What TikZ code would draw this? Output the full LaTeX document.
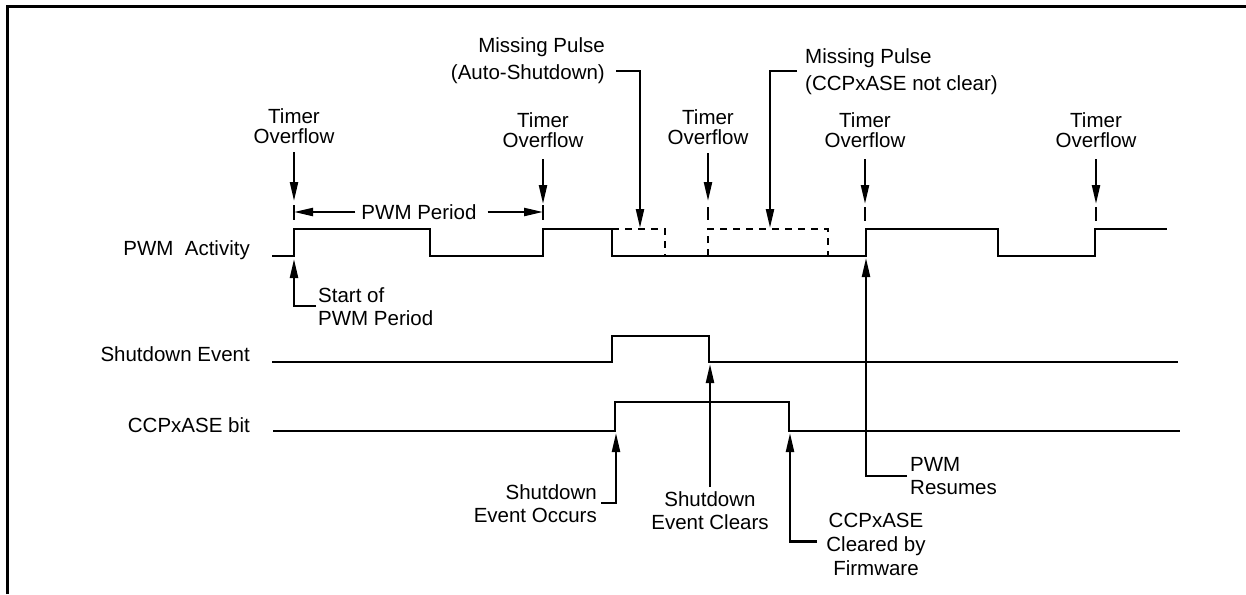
\documentclass[tikz,border=0pt]{standalone}
\usepackage{fontspec}
\setmainfont{Liberation Sans}
\usetikzlibrary{arrows.meta}

\begin{document}
\begin{tikzpicture}[x=1pt,y=-1pt]
      \newcommand{\pwmhi}[0]{229}
      \newcommand{\pwmlo}[0]{256}
      \newcommand{\sdhi}[0]{336}
      \newcommand{\sdlo}[0]{362}
      \newcommand{\asehi}[0]{402}
      \newcommand{\aselo}[0]{431}

      \useasboundingbox (0,0) rectangle (1246,594);

      \tikzstyle{txt} = [
        inner sep=0pt,
        align=center,
        font=\fontsize{20.5}{23}\selectfont,
      ]
      \tikzstyle{sig} = [
        txt,
        anchor=base east,
      ]
      \tikzstyle{wave} = [
        line width=2.6pt,
        line join=miter,
      ]
      \tikzstyle{ghost} = [
        wave,
        dash pattern=on 7pt off 6pt,
      ]
      \tikzstyle{ptr} = [
        line width=2.2pt,
        -{Triangle[length=19pt,width=8pt]},
      ]
      \tikzstyle{tickline} = [
        line width=2.2pt,
      ]

      % frame
      \draw[line width=3pt] (7,594) -- (7,7) -- (1246,7);

      % pwm activity
      {
        \node[sig] (lpwm) at (250,255) {PWM\ \ Activity};
        \draw[wave] (272,\pwmlo) -| (294,\pwmhi) -| (430,\pwmlo) -| (543,\pwmhi)
          -| (612,\pwmlo) -| (866,\pwmhi) -| (998,\pwmlo) -| (1095,\pwmhi) -- (1167,\pwmhi);
        \draw[ghost] (612,\pwmhi) -| (665,\pwmlo);
        \draw[ghost] (708,\pwmlo) |- (828,\pwmhi) -- (828,\pwmlo);
      }

      % shutdown event
      {
        \node[sig] (lsd) at (250,361) {Shutdown Event};
        \draw[wave] (272,\sdlo) -| (612,\sdhi) -| (709,\sdlo) -- (1178,\sdlo);
      }

      % ccpxase bit
      {
        \node[sig] (lase) at (250,432) {CCPxASE bit};
        \draw[wave] (273,\aselo) -| (615,\asehi) -| (789,\aselo) -- (1180,\aselo);
      }

      % timer overflows
      {
        \node[txt,anchor=north] (toI) at (294,108) {Timer\\[-3pt]Overflow};
        \node[txt,anchor=north] (toII) at (543,112) {Timer\\[-3pt]Overflow};
        \node[txt,anchor=north] (toIII) at (708,109) {Timer\\[-3pt]Overflow};
        \node[txt,anchor=north] (toIV) at (865,112) {Timer\\[-3pt]Overflow};
        \node[txt,anchor=north] (toV) at (1096,112) {Timer\\[-3pt]Overflow};

        \coordinate (tipI) at (294,201);
        \coordinate (tipII) at (543,204);
        \coordinate (tipIII) at (708,201);
        \coordinate (tipIV) at (865,204);
        \coordinate (tipV) at (1096,204);

        \draw[ptr,shorten <=9pt] (toI) -- (tipI);
        \draw[ptr,shorten <=12pt] (toII) -- (tipII);
        \draw[ptr,shorten <=9pt] (toIII) -- (tipIII);
        \draw[ptr,shorten <=12pt] (toIV) -- (tipIV);
        \draw[ptr,shorten <=12pt] (toV) -- (tipV);

        \draw[tickline] (294,205) -- (294,220);
        \draw[tickline] (543,205) -- (543,220);
        \draw[tickline] (708,207) -- (708,220);
        \draw[tickline] (865,207) -- (865,221);
        \draw[tickline] (1096,207) -- (1096,221);
      }

      % pwm period
      {
        \node[txt] (per) at (419,212) {PWM Period};
        \coordinate (perL) at (294,212);
        \coordinate (perR) at (543,212);
        \draw[ptr,shorten <=6pt] (per.west) -- (perL);
        \draw[ptr,shorten <=11pt] (per.east) -- (perR);
      }

      % missing pulses
      {
        \node[txt,anchor=north east,align=right] (mpA) at (605,37)
          {Missing Pulse\\[4pt](Auto-Shutdown)};
        \node[txt,anchor=north west,align=left] (mpC) at (805,48)
          {Missing Pulse\\[4pt](CCPxASE not clear)};

        \coordinate (gapA) at (640,228);
        \coordinate (gapC) at (770,228);

        \draw[ptr,shorten <=11pt] ([yshift=-11pt]mpA.east) -| (gapA);
        \draw[ptr,shorten <=8pt] (mpC.west) -| (gapC);
      }

      % events
      {
        \node[txt,anchor=north west,align=left] (sop) at (318,287) {Start of\\PWM Period};
        \node[txt,anchor=north east,align=right] (seo) at (597,484) {Shutdown\\Event Occurs};
        \node[txt,anchor=north] (sec) at (710,491) {Shutdown\\Event Clears};
        \node[txt,anchor=north] (ccf) at (876,513) {CCPxASE\\[1pt]Cleared by\\[1pt]Firmware};
        \node[txt,anchor=north west,align=left] (res) at (910,457) {PWM\\Resumes};

        \coordinate (evI) at (294,259);
        \coordinate (evII) at (616,433);
        \coordinate (evIII) at (710,364);
        \coordinate (evIV) at (790,433);
        \coordinate (evV) at (866,258);

        \draw[ptr,shorten <=2pt] (sop.west) -| (evI);
        \draw[ptr,shorten <=4pt] (seo.east) -| (evII);
        \draw[ptr,shorten <=4pt] (sec.north) -- (evIII);
        \draw[ptr,shorten <=9pt] ([yshift=3pt]ccf.west) -| (evIV);
        \draw[ptr,shorten <=3pt] (res.west) -| (evV);
      }
\end{tikzpicture}
\end{document}
